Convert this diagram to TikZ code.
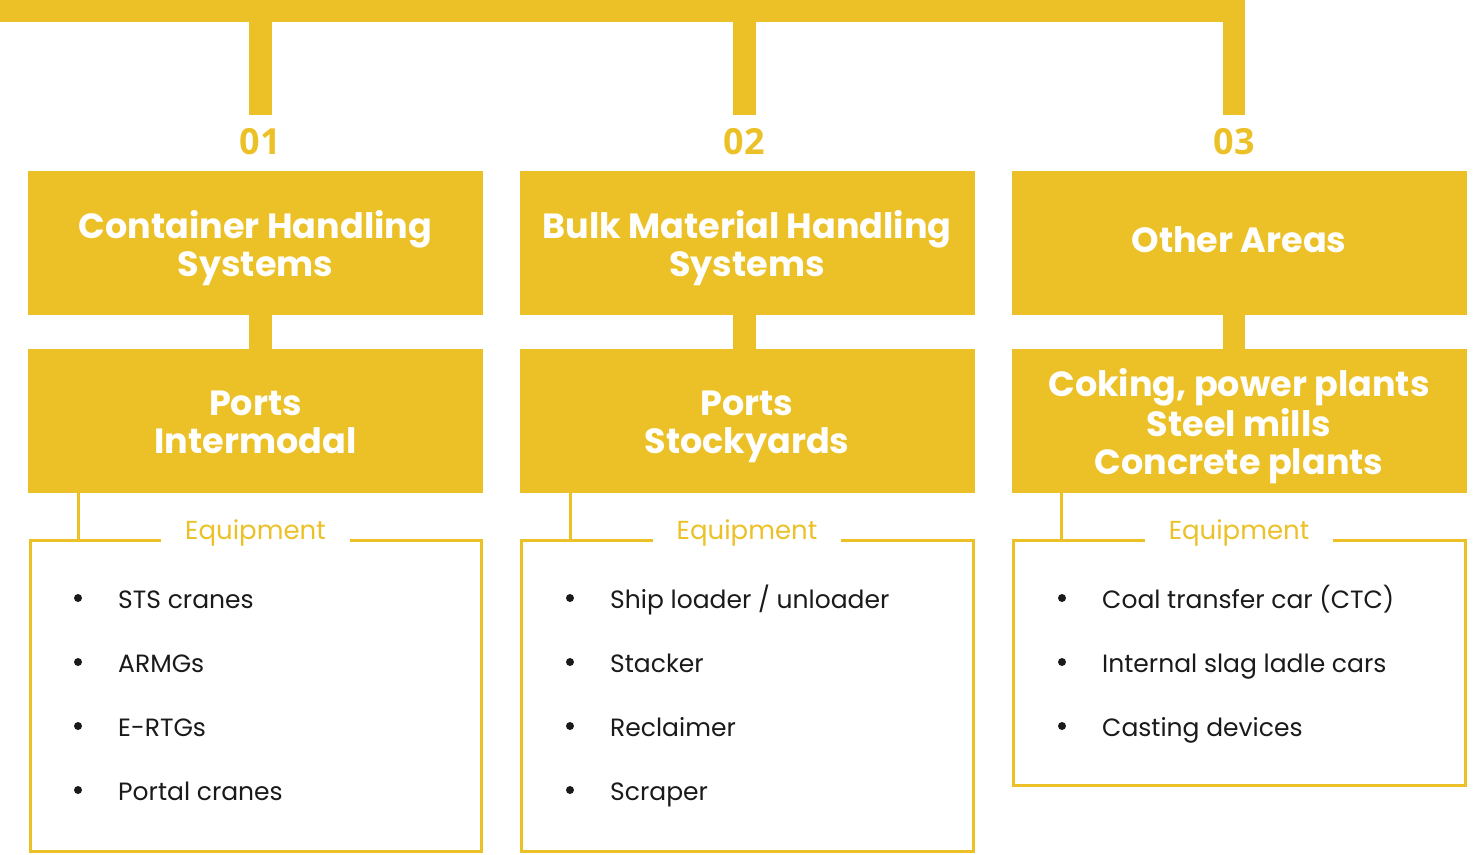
\documentclass[tikz,border=0pt]{standalone}
\usepackage{fontspec}
\setmainfont{Poppins}
\newfontfamily\numfont{Open Sans}
\usetikzlibrary{calc}
\definecolor{gold}{HTML}{ECC127}
\definecolor{txt}{HTML}{1A1A1A}
\tikzset{
  bigbox/.style={fill=gold, draw=none, minimum width=455pt, minimum height=144pt, inner sep=0pt},
  bigtext/.style={text=white, align=center, inner sep=0pt, font=\bfseries\fontsize{35}{37.5}\selectfont},
  eqbox/.style={draw=gold, line width=3pt, inner sep=0pt},
  eqlabel/.style={anchor=base, fill=white, text=gold, inner xsep=24pt, inner ysep=3pt, font=\fontsize{26}{28}\selectfont},
  numlabel/.style={text=gold, font=\numfont\bfseries\fontsize{36}{40}\selectfont},
  bar/.style={draw=gold, line width=22.5pt},
  thin/.style={draw=gold, line width=3pt},
  item/.style={anchor=base west, text=txt, inner sep=0pt, font=\fontsize{25}{28}\selectfont},
  dot/.style={circle, fill=txt, minimum size=8pt, inner sep=0pt}
}
\begin{document}
\begin{tikzpicture}[x=1pt,y=-1pt]
\useasboundingbox (0,0) rectangle (1477,854);
% header boxes
\node[bigbox] (h1) at (255.5,243) {};
\node[bigbox] (h2) at (747,243) {};
\node[bigbox] (h3) at (1239,243) {};
\node[bigtext] (h1t) at ($(h1.center)+(0,6.25)$) {\strut Container Handling\\\strut Systems};
\node[bigtext] (h2t) at ($(h2.center)+(0,6.25)$) {\strut Bulk Material Handling\\\strut Systems};
\node[bigtext] (h3t) at ($(h3.center)+(0,1.75)$) {\strut Other Areas};
% sub boxes
\node[bigbox] (s1) at (255.5,421) {};
\node[bigbox] (s2) at (747,421) {};
\node[bigbox] (s3) at (1239,421) {};
\node[bigtext] (s1t) at ($(s1.center)+(0,5.75)$) {\strut Ports\\\strut Intermodal};
\node[bigtext] (s2t) at ($(s2.center)+(0,5.75)$) {\strut Ports\\\strut Stockyards};
\node[bigtext] (s3t) at ($(s3.center)+(0,5.75)$) {\strut Coking, power plants\\\strut Steel mills\\\strut Concrete plants};
% numbers
\node[numlabel] (n1) at (260.5,142) {01};
\node[numlabel] (n2) at (744.5,142) {02};
\node[numlabel] (n3) at (1234,142) {03};
% top bar and stems
\coordinate (L) at (0,11);
\coordinate (t1) at (260.5,115);
\coordinate (t2) at (744.5,115);
\coordinate (t3) at (1234,115);
\draw[bar] (L) -| (t3);
\draw[bar] (260.5,11) -- (t1);
\draw[bar] (744.5,11) -- (t2);
% connectors between boxes
\draw[bar] (h1.south -| t1) -- (s1.north -| t1);
\draw[bar] (h2.south -| t2) -- (s2.north -| t2);
\draw[bar] (h3.south -| t3) -- (s3.north -| t3);
% equipment boxes
\node[eqbox, minimum width=451pt, minimum height=311pt] (e1) at (255.5,695.5) {};
\node[eqbox, minimum width=452pt, minimum height=311pt] (e2) at (747,695.5) {};
\node[eqbox, minimum width=452pt, minimum height=245pt] (e3) at (1239,662.5) {};
\node[eqlabel] (q1) at ($(e1.north)+(0,1)$) {Equipment};
\node[eqlabel] (q2) at ($(e2.north)+(0,1)$) {Equipment};
\node[eqlabel] (q3) at ($(e3.north)+(0,1)$) {Equipment};
\draw[thin] (s1.south -| 78,0) -- (e1.north -| 78,0);
\draw[thin] (s2.south -| 570,0) -- (e2.north -| 570,0);
\draw[thin] (s3.south -| 1061,0) -- (e3.north -| 1061,0);
% items col1
\node[dot] (b11) at (78,598) {}; \node[item] (i11) at (118,608) {STS cranes};
\node[dot] (b12) at (78,662) {}; \node[item] (i12) at (118,672) {ARMGs};
\node[dot] (b13) at (78,726) {}; \node[item] (i13) at (118,736) {E-RTGs};
\node[dot] (b14) at (78,790) {}; \node[item] (i14) at (118,800) {Portal cranes};
% items col2
\node[dot] (b21) at (570,598) {}; \node[item] (i21) at (610,608) {Ship loader / unloader};
\node[dot] (b22) at (570,662) {}; \node[item] (i22) at (610,672) {Stacker};
\node[dot] (b23) at (570,726) {}; \node[item] (i23) at (610,736) {Reclaimer};
\node[dot] (b24) at (570,790) {}; \node[item] (i24) at (610,800) {Scraper};
% items col3
\node[dot] (b31) at (1062,598) {}; \node[item] (i31) at (1102,608) {Coal transfer car (CTC)};
\node[dot] (b32) at (1062,662) {}; \node[item] (i32) at (1102,672) {Internal slag ladle cars};
\node[dot] (b33) at (1062,726) {}; \node[item] (i33) at (1102,736) {Casting devices};
\end{tikzpicture}
\end{document}
